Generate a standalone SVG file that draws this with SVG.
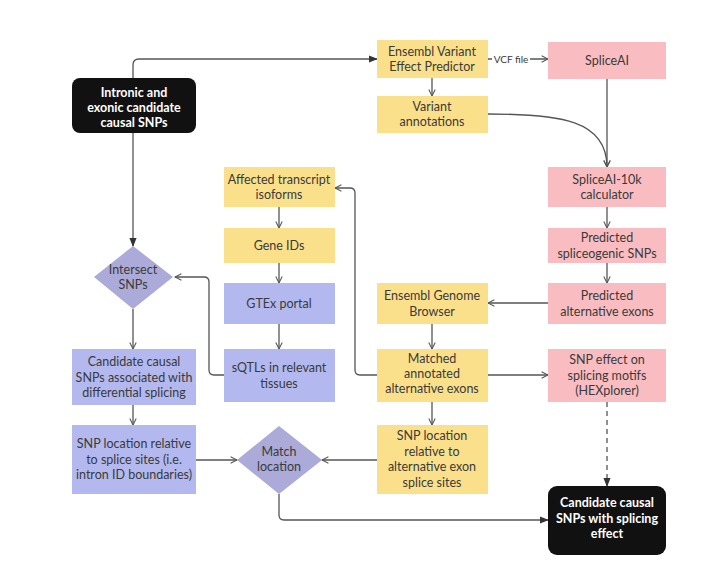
<svg xmlns="http://www.w3.org/2000/svg" width="713" height="579" viewBox="0 0 713 579">
<style>
text{font-family:Lato,"Open Sans",sans-serif;font-size:12.5px;fill:#3a3a3a;text-anchor:middle}
.w{fill:#fff;font-weight:bold}
.y{fill:#FBE08C}.p{fill:#F9BDC1}.b{fill:#B3B9EE}.d{fill:#ABAAD8}.k{fill:#111}
.c path{fill:none;stroke:#555;stroke-width:1.3}
</style>
<defs>
<marker id="a" viewBox="0 0 10 10" refX="9" refY="5" markerWidth="8" markerHeight="8" orient="auto" markerUnits="userSpaceOnUse"><path d="M1,1L9,5L1,9" fill="none" stroke="#555" stroke-width="1.3"/></marker>
<marker id="f" viewBox="0 0 10 10" refX="9" refY="5" markerWidth="9" markerHeight="9" orient="auto" markerUnits="userSpaceOnUse"><path d="M0,1L10,5L0,9z" fill="#333"/></marker>
</defs>
<rect width="713" height="579" fill="#fff"/>
<g class="c">
<path d="M133,78V65Q133,59 139,59H377" marker-end="url(#f)"/>
<path d="M133,133V246" marker-end="url(#f)"/>
<path d="M432,78V96" marker-end="url(#a)"/>
<path d="M488,59H492M530,59H548" marker-end="url(#a)"/>
<path d="M607,79V167" marker-end="url(#a)"/>
<path d="M488,114C560,114 607,120 607,167" marker-end="url(#a)"/>
<path d="M607,207V228" marker-end="url(#a)"/>
<path d="M607,263V283" marker-end="url(#a)"/>
<path d="M548,303H488" marker-end="url(#a)"/>
<path d="M432,324V349" marker-end="url(#a)"/>
<path d="M377,375H360Q355,375 355,370V193Q355,188 350,188H335" marker-end="url(#a)"/>
<path d="M279,207V228" marker-end="url(#a)"/>
<path d="M279,263V283" marker-end="url(#a)"/>
<path d="M279,324V349" marker-end="url(#a)"/>
<path d="M224,375H214Q209,375 209,370V282Q209,277 204,277H175" marker-end="url(#a)"/>
<path d="M133,309V349" marker-end="url(#a)"/>
<path d="M133,405V425" marker-end="url(#a)"/>
<path d="M196,460H237" marker-end="url(#a)"/>
<path d="M377,460H322" marker-end="url(#a)"/>
<path d="M432,402V425" marker-end="url(#a)"/>
<path d="M488,375H548" marker-end="url(#a)"/>
<path d="M607,402V486" stroke-dasharray="5,4" marker-end="url(#f)"/>
<path d="M279,494V515Q279,520 284,520H548" marker-end="url(#f)"/>
</g>
<text x="511" y="63" style="font-size:10px">VCF file</text>
<g id="start"><rect class="k" x="72" y="78" width="124" height="55" rx="8"/><text class="w" x="134" y="97">Intronic and</text><text class="w" x="134" y="112">exonic candidate</text><text class="w" x="134" y="127">causal SNPs</text></g>
<g id="vep"><rect class="y" x="377" y="40" width="111" height="38"/><text x="432" y="56">Ensembl Variant</text><text x="432" y="71">Effect Predictor</text></g>
<g id="spliceai"><rect class="p" x="548" y="42" width="118" height="37"/><text x="607" y="65">SpliceAI</text></g>
<g id="varann"><rect class="y" x="377" y="96" width="111" height="37"/><text x="432" y="111">Variant</text><text x="432" y="126">annotations</text></g>
<g id="affected"><rect class="y" x="224" y="167" width="111" height="40"/><text x="279" y="184">Affected transcript</text><text x="279" y="199">isoforms</text></g>
<g id="geneids"><rect class="y" x="224" y="228" width="111" height="35"/><text x="279" y="250">Gene IDs</text></g>
<g id="gtex"><rect class="b" x="224" y="283" width="111" height="41"/><text x="279" y="308">GTEx portal</text></g>
<g id="sqtl"><rect class="b" x="224" y="349" width="111" height="53"/><text x="279" y="372">sQTLs in relevant</text><text x="279" y="388">tissues</text></g>
<g id="s10k"><rect class="p" x="548" y="167" width="118" height="40"/><text x="607" y="184">SpliceAI-10k</text><text x="607" y="199">calculator</text></g>
<g id="spliceo"><rect class="p" x="548" y="228" width="118" height="35"/><text x="607" y="242">Predicted</text><text x="607" y="258">spliceogenic SNPs</text></g>
<g id="altex"><rect class="p" x="548" y="283" width="118" height="41"/><text x="607" y="300">Predicted</text><text x="607" y="316">alternative exons</text></g>
<g id="egb"><rect class="y" x="377" y="283" width="111" height="41"/><text x="432" y="300">Ensembl Genome</text><text x="432" y="316">Browser</text></g>
<g id="matched"><rect class="y" x="377" y="349" width="111" height="53"/><text x="432" y="363">Matched</text><text x="432" y="378">annotated</text><text x="432" y="393">alternative exons</text></g>
<g id="effect"><rect class="p" x="548" y="349" width="118" height="53"/><text x="607" y="364">SNP effect on</text><text x="607" y="380">splicing motifs</text><text x="607" y="395">(HEXplorer)</text></g>
<g id="intersect"><path class="d" d="M133,246L173,277L133,309L94,277z"/><text x="133" y="274">Intersect</text><text x="133" y="289">SNPs</text></g>
<g id="cand"><rect class="b" x="72" y="349" width="124" height="56"/><text x="134" y="366">Candidate causal</text><text x="134" y="382">SNPs associated with</text><text x="134" y="397">differential splicing</text></g>
<g id="snploc"><rect class="b" x="72" y="425" width="124" height="69"/><text x="134" y="448">SNP location relative</text><text x="134" y="464">to splice sites (i.e.</text><text x="134" y="479">intron ID boundaries)</text></g>
<g id="match"><path class="d" d="M279,426L322,460L279,494L237,460z"/><text x="279" y="456">Match</text><text x="279" y="471">location</text></g>
<g id="snpalt"><rect class="y" x="377" y="425" width="111" height="69"/><text x="432" y="440">SNP location</text><text x="432" y="456">relative to</text><text x="432" y="471">alternative exon</text><text x="432" y="487">splice sites</text></g>
<g id="final"><rect class="k" x="548" y="486" width="118" height="69" rx="9"/><text class="w" x="607" y="507">Candidate causal</text><text class="w" x="607" y="523">SNPs with splicing</text><text class="w" x="607" y="538">effect</text></g>
</svg>
